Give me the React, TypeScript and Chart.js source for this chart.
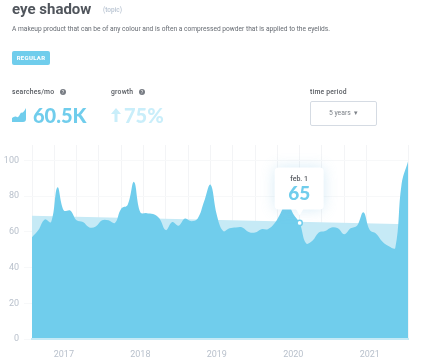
import React, { useEffect, useRef } from "react";
import { Chart, registerables } from "chart.js";

Chart.register(...registerables);

const monthLabels = [
  "2016-08","2016-09","2016-10","2016-11","2016-12",
  "2017-01","2017-02","2017-03","2017-04","2017-05","2017-06","2017-07","2017-08","2017-09","2017-10","2017-11","2017-12",
  "2018-01","2018-02","2018-03","2018-04","2018-05","2018-06","2018-07","2018-08","2018-09","2018-10","2018-11","2018-12",
  "2019-01","2019-02","2019-03","2019-04","2019-05","2019-06","2019-07","2019-08","2019-09","2019-10","2019-11","2019-12",
  "2020-01","2020-02","2020-03","2020-04","2020-05","2020-06","2020-07","2020-08","2020-09","2020-10","2020-11","2020-12",
  "2021-01","2021-02","2021-03","2021-04","2021-05","2021-06","2021-07",
];
const searchValues = [
  57,61,67,65.5,85,
  72,72,66.5,65.5,62.5,63,66.5,66.5,65,73,75,88,
  71,70.5,70,67.5,61,65.5,63.5,67.5,66,67.5,77,86.5,
  69.5,60.5,62,62.5,62.5,60,59.6,61.5,61.5,64.5,70.5,77,
  70,65,53.6,55,59.6,60.5,62.5,62,58.7,62,63.5,71,
  61,59,54.5,52,51,87,99.5,
];
const trendStart = 69;
const trendEnd = 64.3;
const trendValues = monthLabels.map((_, i) =>
  i === 0 ? trendStart : i === monthLabels.length - 1 ? trendEnd : null
);
const yTicks = [0, 20, 40, 60, 80, 100];
const highlightIndex = 42;
const tooltipDate = "feb. 1";
const tooltipValue = "65";

const BLUE = "#70cdec";
const LIGHT = "#c6eaf6";
const FONT = "Roboto, 'Noto Sans', sans-serif";
const HEAD = "Lato, 'Noto Sans', sans-serif";
const TEXT = "#55595f";

const tooltipPlugin = {
  id: "fixedTip",
  afterDatasetsDraw(chart: any) {
    const { ctx } = chart;
    const px = chart.scales.x.getPixelForValue(highlightIndex);
    const py = chart.scales.y.getPixelForValue(searchValues[highlightIndex]);
    const w = 49, h = 42, r = 4;
    const left = px - 25, top = py - 55.5;
    ctx.save();
    ctx.shadowColor = "rgba(120,190,225,0.3)";
    ctx.shadowBlur = 14;
    ctx.fillStyle = "#fff";
    ctx.beginPath();
    ctx.roundRect(left, top, w, h, r);
    ctx.fill();
    ctx.shadowColor = "transparent";
    ctx.beginPath();
    ctx.moveTo(px - 4, top + h - 1);
    ctx.lineTo(px, top + h + 6);
    ctx.lineTo(px + 4, top + h - 1);
    ctx.closePath();
    ctx.fill();
    ctx.textAlign = "center";
    ctx.textBaseline = "middle";
    ctx.fillStyle = TEXT;
    ctx.font = `500 7px ${FONT}`;
    ctx.fillText(tooltipDate, left + w / 2, top + 11.5);
    ctx.fillStyle = BLUE;
    ctx.font = `900 19px ${HEAD}`;
    ctx.fillText(tooltipValue, left + w / 2, top + 26.5);
    ctx.beginPath();
    ctx.arc(px, py, 2.6, 0, Math.PI * 2);
    ctx.fillStyle = "#fff";
    ctx.fill();
    ctx.lineWidth = 1.5;
    ctx.strokeStyle = BLUE;
    ctx.stroke();
    ctx.restore();
  },
};

const label = (x: number, y: number, text: string, style: React.CSSProperties) => (
  <div style={{ position: "absolute", left: x, top: y, whiteSpace: "nowrap", fontFamily: FONT, ...style }}>{text}</div>
);

const Help = ({ x, y }: { x: number; y: number }) => (
  <div style={{ position: "absolute", left: x, top: y, width: 6, height: 6, borderRadius: 3, background: "#777c83", color: "#fff", fontSize: 5, lineHeight: "6px", textAlign: "center", fontFamily: FONT }}>?</div>
);

export default function App() {
  const ref = useRef<HTMLCanvasElement>(null);
  useEffect(() => {
    document.body.style.margin = "0";
    const chart = new Chart(ref.current!, {
      type: "line",
      data: {
        labels: monthLabels,
        datasets: [
          {
            data: searchValues,
            borderWidth: 0,
            backgroundColor: BLUE,
            fill: "origin",
            pointRadius: 0,
            tension: 0.4,
            order: 1,
          },
          {
            data: trendValues,
            spanGaps: true,
            borderWidth: 0,
            backgroundColor: LIGHT,
            fill: "origin",
            pointRadius: 0,
            order: 2,
          },
        ],
      },
      options: {
        responsive: false,
        animation: false,
        layout: { padding: { top: 153, right: 18, left: 0, bottom: 0 } },
        plugins: { legend: { display: false }, tooltip: { enabled: false } },
        scales: {
          x: {
            type: "category",
            offset: false,
            border: { display: true, color: LIGHT, width: 2, z: 5 },
            grid: { display: false },
            ticks: {
              autoSkip: false,
              maxRotation: 0,
              padding: 2,
              color: "#b9c1cc",
              font: { family: FONT, size: 9 },
              callback(_: any, i: number) {
                return monthLabels[i].endsWith("-01") ? monthLabels[i].slice(0, 4) : "";
              },
            },
            afterFit(s: any) { s.height = 19; },
          },
          gridX: {
            type: "linear",
            axis: "x",
            position: "top",
            min: 0,
            max: 59,
            display: true,
            border: { display: false },
            grid: { color: "#f3f4f6", lineWidth: 1 },
            ticks: { display: false, stepSize: 3.5 },
            afterFit(s: any) { s.height = 0; },
          },
          y: {
            min: 0,
            max: 104.2,
            border: { display: false },
            grid: { color: "#f7f8f9", lineWidth: 1 },
            afterBuildTicks(s: any) { s.ticks = yTicks.map((value) => ({ value })); },
            afterFit(s: any) { s.width = 32; },
            ticks: {
              padding: 5,
              color: "#b9c1cc",
              font: { family: FONT, size: 9 },
            },
          },
        },
      } as any,
      plugins: [tooltipPlugin],
    });
    return () => chart.destroy();
  }, []);

  return (
    <div style={{ position: "relative", width: 426, height: 358, overflow: "hidden", background: "#fff" }}>
      <canvas ref={ref} width={426} height={358} style={{ position: "absolute", left: 0, top: 0 }} />
      {label(12, 0, "eye shadow", { fontSize: 15, fontWeight: 700, color: "#50555c", lineHeight: "19px", fontFamily: FONT })}
      {label(103, 5, "(topic)", { fontSize: 6.5, color: "#b9c4d2", fontWeight: 500, lineHeight: "10px" })}
      {label(12, 24, "A makeup product that can be of any colour and is often a compressed powder that is applied to the eyelids.", { fontSize: 6.65, color: "#666b72", lineHeight: "10px" })}
      <div style={{ position: "absolute", left: 12, top: 51, width: 38, height: 14, borderRadius: 2, background: BLUE, color: "#fff", fontSize: 6, fontWeight: 800, letterSpacing: 0.3, textAlign: "center", lineHeight: "14px", fontFamily: FONT }}>REGULAR</div>
      {label(12, 87, "searches/mo", { fontSize: 6.8, fontWeight: 500, letterSpacing: 0.2, color: "#55595f", lineHeight: "10px" })}
      <Help x={60} y={89} />
      {label(111, 87, "growth", { fontSize: 6.8, fontWeight: 500, letterSpacing: 0.2, color: "#55595f", lineHeight: "10px" })}
      <Help x={139} y={89} />
      {label(310, 87, "time period", { fontSize: 6.8, fontWeight: 500, letterSpacing: 0.2, color: "#55595f", lineHeight: "10px" })}
      <svg width="15" height="15" style={{ position: "absolute", left: 12, top: 108 }}>
        <path d="M0 14 V10 Q2 8 4 8.5 Q6 10 7 8 L9 4.5 Q11 6 14 0 V11 Q14 14 11 14 Z" fill={BLUE} />
      </svg>
      {label(33, 104, "60.5K", { fontSize: 20, fontWeight: 900, color: BLUE, lineHeight: "22px", fontFamily: HEAD })}
      <svg width="12" height="15" style={{ position: "absolute", left: 110, top: 107 }}>
        <path d="M6 1 L11 7 H7.5 V15 H4.5 V7 H1 Z" fill="#c9eefa" />
      </svg>
      {label(124, 104, "75%", { fontSize: 20, fontWeight: 900, color: "#c9eefa", lineHeight: "22px", fontFamily: HEAD })}
      <div style={{ position: "absolute", left: 310, top: 101, width: 65, height: 23, border: "1px solid #d5dbe3", borderRadius: 2, color: "#7c8188", fontSize: 6.8, textAlign: "center", lineHeight: "23px", fontFamily: FONT }}>5 years &nbsp;▾</div>
    </div>
  );
}
